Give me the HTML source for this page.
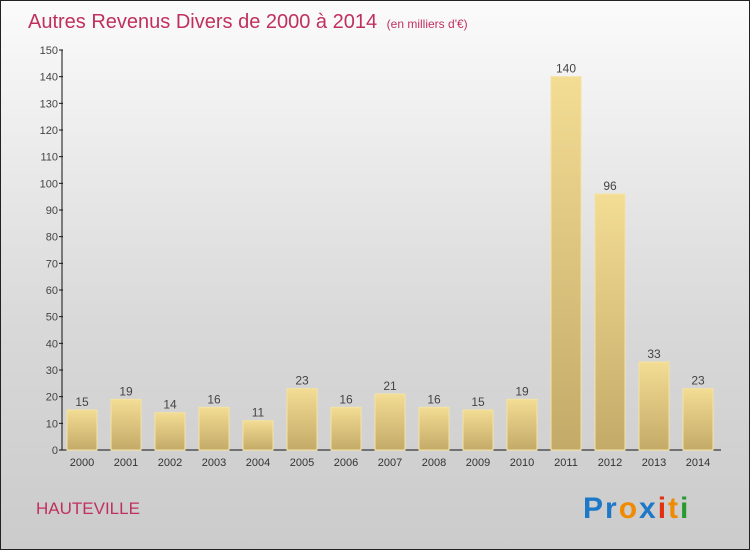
<!DOCTYPE html>
<html><head><meta charset="utf-8"><style>
body{margin:0}
#c{position:relative;width:748px;height:548px;border:1px solid #222;background:linear-gradient(#fbfbfb,#d8d8d8 60%,#cbcbcb);overflow:hidden;font-family:"Liberation Sans",sans-serif}
</style></head><body>
<div id="c">
<svg width="748" height="548" id="svg">
<defs><linearGradient id="bg" x1="0" y1="0" x2="0" y2="1"><stop offset="0" stop-color="#f3dc94"/><stop offset="1" stop-color="#c4aa68"/></linearGradient></defs>
<text x="27" y="27" font-size="20" fill="#c0305e">Autres Revenus Divers de 2000 à 2014 <tspan font-size="12" dx="4">(en milliers d'€)</tspan></text>
<text x="35" y="513" font-size="17" fill="#c0305e">HAUTEVILLE</text>
<text x="582" y="517" font-size="30" font-weight="bold" letter-spacing="2"><tspan fill="#1e78c8">Pr</tspan><tspan fill="#f08a00">o</tspan><tspan fill="#1e78c8">x</tspan><tspan fill="#e03010">i</tspan><tspan fill="#f08a00">t</tspan><tspan fill="#2a9a30">i</tspan></text>
<g id="g"></g>
</svg></div>
<script>
const years=["2000","2001","2002","2003","2004","2005","2006","2007","2008","2009","2010","2011","2012","2013","2014"];
const values=[15,19,14,16,11,23,16,21,16,15,19,140,96,33,23];
const ticks=[0,10,20,30,40,50,60,70,80,90,100,110,120,130,140,150];
const ns="http://www.w3.org/2000/svg",g=document.getElementById('g');
const y=v=>449-v*400/150, x=i=>81+i*44;
function mk(t,a,txt){const e=document.createElementNS(ns,t);for(const k in a)e.setAttribute(k,a[k]);if(txt!=null)e.textContent=txt;g.appendChild(e);return e;}
let e=mk('line',{x1:61,y1:449,x2:61,y2:49,stroke:'#111'});

e=mk('line',{x1:61,y1:449,x2:720,y2:449,stroke:'#111'});

ticks.forEach(t=>{
 let l=mk('line',{x1:58,x2:62,y1:y(t),y2:y(t),stroke:'#111'});
 
 let s=mk('text',{x:57,y:y(t)+4,'font-size':11,fill:'#444','text-anchor':'end'},t);
 
});
years.forEach((yr,i)=>{
 const v=values[i];
 let b=mk('rect',{x:x(i)-15,y:y(v),width:30,height:449-y(v),fill:'url(#bg)',stroke:'#f5e3a0','stroke-width':1});
 
 let l=mk('text',{x:x(i),y:y(v)-4,'font-size':12,fill:'#444','text-anchor':'middle'},v);
 
 let t=mk('text',{x:x(i),y:465,'font-size':11,fill:'#333','text-anchor':'middle'},yr);
 
});
</script>
</body></html>
